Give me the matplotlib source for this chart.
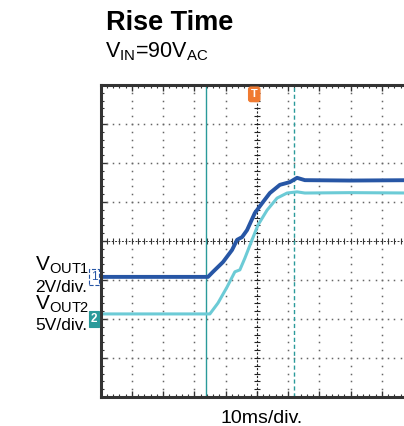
import numpy as np
import matplotlib
matplotlib.use("Agg")
import matplotlib.pyplot as plt

plt.rcParams['font.family'] = ['Liberation Sans', 'DejaVu Sans']
plt.rcParams['mathtext.fontset'] = 'custom'
plt.rcParams['mathtext.rm'] = 'Liberation Sans'
plt.rcParams['mathtext.it'] = 'Liberation Sans'

# screen divisions: x 0..10 (10ms/div), y 0..8
vout1_x = [0.0, 3.44, 3.60, 3.92, 4.21, 4.37, 4.53, 4.69, 4.94, 5.20, 5.42, 5.74, 6.06, 6.29, 6.54, 8.0, 10.0]
vout1_y = [3.08, 3.08, 3.21, 3.46, 3.77, 4.03, 4.10, 4.28, 4.72, 5.00, 5.23, 5.44, 5.51, 5.62, 5.56, 5.55, 5.56]

vout2_x = [0.0, 3.50, 3.76, 4.05, 4.30, 4.46, 4.62, 4.85, 5.04, 5.33, 5.65, 5.97, 6.29, 6.54, 8.0, 10.0]
vout2_y = [2.13, 2.13, 2.41, 2.82, 3.21, 3.26, 3.56, 4.03, 4.41, 4.79, 5.10, 5.23, 5.26, 5.23, 5.24, 5.23]

cursor_a = 3.38
cursor_b = 6.19
trigger_x = 4.92

BLUE = '#2756a5'
CYAN = '#6ccbd6'
TEAL = '#2a9a9a'
ORANGE = '#f07a30'

fig = plt.figure(figsize=(4.04, 4.26), dpi=100)
ax = fig.add_axes([100.5 / 404, 29 / 426, 312.5 / 404, 312 / 426])
ax.set_xlim(0, 10)
ax.set_ylim(0, 8)

# dotted graticule
fine_y = np.arange(0, 8.01, 0.2)
fine_x = np.arange(0, 10.01, 0.2)
for gx in range(1, 10):
    if gx == 5:
        continue
    ax.plot(np.full_like(fine_y, gx), fine_y, ls='', marker='s', ms=1.1, color='#666', mew=0)
for gy in range(1, 8):
    if gy == 4:
        continue
    ax.plot(fine_x, np.full_like(fine_x, gy), ls='', marker='s', ms=1.1, color='#666', mew=0)

# centre crosshair
ax.axhline(4, color='#333', lw=0.7, ls=(0, (2, 1.5)))
ax.plot(fine_x, np.full_like(fine_x, 4), ls='', marker='|', ms=4, mew=0.8, color='#333')
ax.axvline(5, color='#222', lw=0.8, ls=(0, (2, 1.5)))
ax.plot(np.full_like(fine_y, 5), fine_y, ls='', marker='_', ms=4, mew=0.8, color='#222')

# cursors
ax.axvline(cursor_a, color=TEAL, lw=1.0)
ax.axvline(cursor_b, color=TEAL, lw=1.0, ls=(0, (3, 2)))

# traces
ax.plot(vout2_x, vout2_y, color=CYAN, lw=2.2, solid_joinstyle='round')
ax.plot(vout1_x, vout1_y, color=BLUE, lw=2.8, solid_joinstyle='round')

# trigger marker
ax.text(trigger_x, 7.76, 'T', color='white', fontsize=8, fontweight='bold',
        ha='center', va='center',
        bbox=dict(boxstyle='round,pad=0.2', fc=ORANGE, ec=ORANGE))

# frame
for side in ['left', 'top', 'bottom']:
    ax.spines[side].set_linewidth(2.2)
    ax.spines[side].set_color('#333')
ax.spines['right'].set_visible(False)
ax.set_xticks(np.arange(0, 11, 1))
ax.set_yticks(np.arange(0, 9, 1))
ax.set_xticks(fine_x, minor=True)
ax.set_yticks(fine_y, minor=True)
ax.tick_params(which='both', direction='in', top=True, labelbottom=False, labelleft=False,
               color='#333')
ax.tick_params(which='major', length=4, width=1)
ax.tick_params(which='minor', length=2.5, width=0.8)

# channel markers
ax.text(-0.1, vout1_y[0], '1', color=BLUE, fontsize=8.5, ha='right', va='center', clip_on=False,
        bbox=dict(boxstyle='square,pad=0.15', fc='white', ec=BLUE, lw=0.8, ls='--'))
ax.text(-0.1, 2.0, '2', color='white', fontsize=8.5, fontweight='bold', ha='right', va='center',
        clip_on=False, bbox=dict(boxstyle='square,pad=0.15', fc=TEAL, ec=TEAL, lw=0.8))

# labels
fig.text(106 / 404, 1 - 30 / 426, 'Rise Time', fontsize=19.5, fontweight='bold', va='baseline')
fig.text(105 / 404, 1 - 57 / 426, r'V$_{\mathrm{IN}}$=90V$_{\mathrm{AC}}$', fontsize=15.5, va='baseline')
fig.text(35 / 404, 1 - 271 / 426, r'V$_{\mathrm{OUT1}}$', fontsize=15, va='baseline')
fig.text(35 / 404, 1 - 292 / 426, '2V/div.', fontsize=12.5, va='baseline')
fig.text(35 / 404, 1 - 310 / 426, r'V$_{\mathrm{OUT2}}$', fontsize=15, va='baseline')
fig.text(35 / 404, 1 - 330 / 426, '5V/div.', fontsize=12.5, va='baseline')
fig.text(262 / 404, 1 - 423 / 426, '10ms/div.', fontsize=14, ha='center', va='baseline')

fig.savefig('out.png', dpi=100)
